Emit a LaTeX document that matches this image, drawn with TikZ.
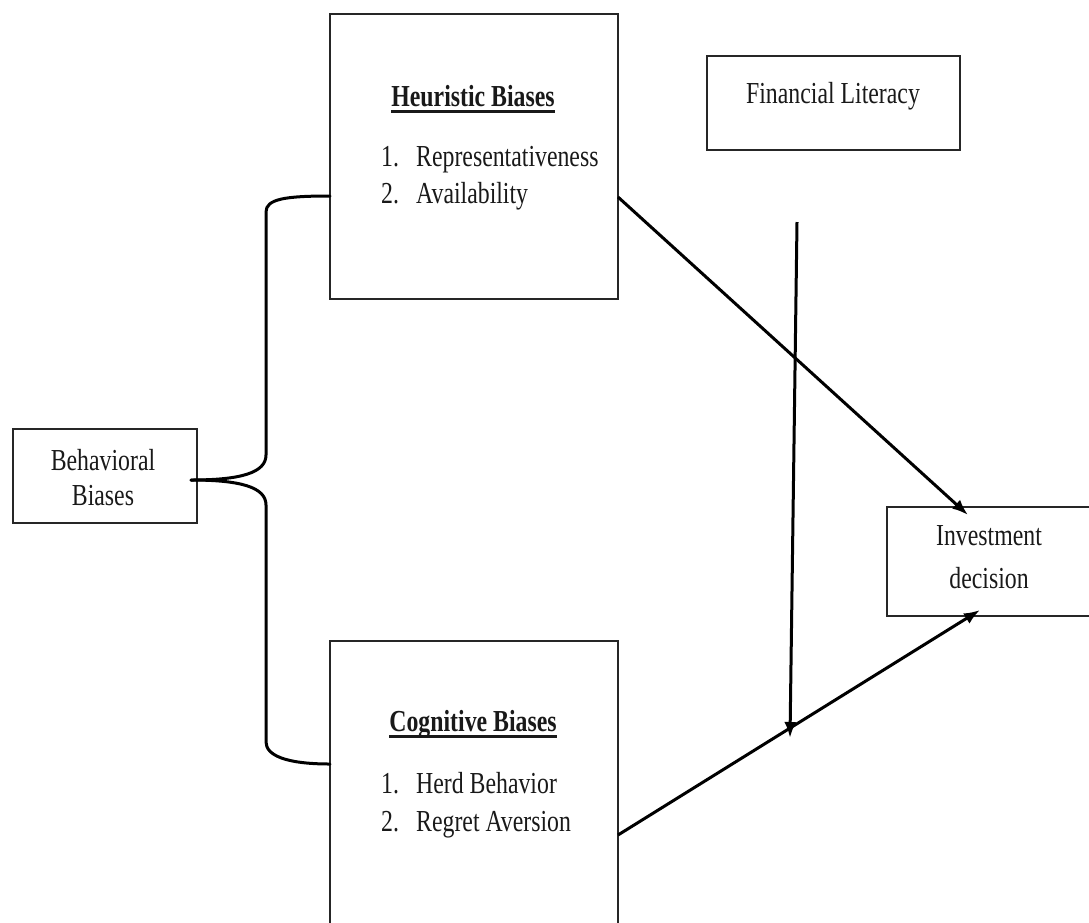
\documentclass[tikz,border=0pt]{standalone}
\usepackage{fontspec}
\setmainfont{Liberation Serif}[FakeStretch=0.78]
\usetikzlibrary{arrows.meta,calc}
\newcommand{\ulhead}[1]{\setbox0\hbox{\bfseries #1}\rlap{\raisebox{-7pt}{\rule{\wd0}{2.6pt}}}\box0}
\begin{document}
\begin{tikzpicture}[x=1pt,y=-1pt,
  box/.style={draw=black!85,line width=1.5pt,inner sep=0pt,outer sep=0pt,anchor=north west},
  lbl/.style={font=\fontsize{30.5}{36}\selectfont,inner sep=0pt,anchor=base,text=black!90},
  lblw/.style={lbl,anchor=base west},
  brace/.style={line width=3pt,line cap=round},
  arr/.style={line width=3pt,-{Latex[length=16pt,width=12pt]}}]
\useasboundingbox (0,0) rectangle (1089,922);

% boxes
\node[box,minimum width=288pt,minimum height=285pt] (heu) at (330,14) {};
\node[box,minimum width=288pt,minimum height=292pt] (cog) at (330,641) {};
\node[box,minimum width=253pt,minimum height=94pt] (fin) at (707,56) {};
\node[box,minimum width=184pt,minimum height=94pt] (beh) at (13,429) {};
\node[box,minimum width=215pt,minimum height=109pt] (inv) at (887,507) {};

% texts
\node[lbl] (heuT) at (473,106) {\ulhead{Heuristic Biases}};
\node[lblw] (heu1n) at (381,166) {1.};
\node[lblw] (heu1) at (416,166) {Representativeness};
\node[lblw] (heu2n) at (381,203) {2.};
\node[lblw] (heu2) at (416,203) {Availability};

\node[lbl] (cogT) at (473,731) {\ulhead{Cognitive Biases}};
\node[lblw] (cog1n) at (381,793) {1.};
\node[lblw] (cog1) at (416,793) {Herd Behavior};
\node[lblw] (cog2n) at (381,831) {2.};
\node[lblw] (cog2) at (416,831) {Regret Aversion};

\node[lbl] (finT) at (833,103) {Financial Literacy};
\node[lbl] (behT1) at (103,470) {Behavioral};
\node[lbl] (behT2) at (103,505) {Biases};
\node[lbl] (invT1) at (989,545) {Investment};
\node[lbl] (invT2) at (989,588) {decision};

% brace
\coordinate (tip) at ([xshift=-6pt,yshift=-4pt]beh.east);
\coordinate (bt) at ([yshift=-39.5pt]heu.west);
\coordinate (bb) at ([yshift=23pt]cog.west);
\draw[brace] (bt) .. controls (285,196) and (266,199) .. (266,212)
  -- (266,455) .. controls (266,473) and (240,480) .. (tip);
\draw[brace] (tip) .. controls (240,480) and (266,487) .. (266,505)
  -- (266,742) .. controls (266,755) and (285,764) .. (bb);

% arrows
\coordinate (hs) at ([yshift=-40.5pt]heu.east);
\coordinate (cs) at ([yshift=-48pt]cog.east);
\coordinate (ht) at ([xshift=81pt,yshift=-8pt]inv.north west);
\coordinate (ct) at ([xshift=93pt,yshift=6pt]inv.south west);
\draw[arr] (hs) -- (ht);
\draw[arr] (cs) -- (ct);
\coordinate (ftop) at (797,222);
\coordinate (fbot) at (790,738);
\draw[arr] (ftop) -- (fbot);
\end{tikzpicture}
\end{document}
